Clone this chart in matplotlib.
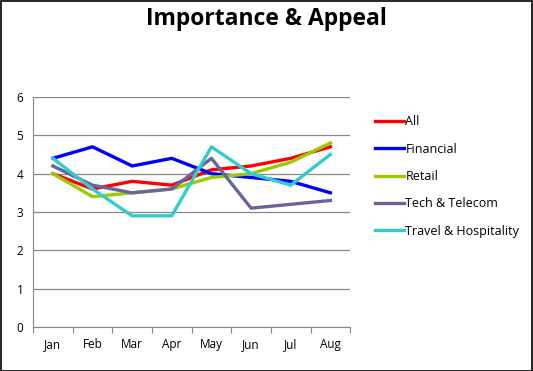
import numpy as np
import matplotlib.pyplot as plt
from matplotlib.patches import Rectangle

months = ['Jan', 'Feb', 'Mar', 'Apr', 'May', 'Jun', 'Jul', 'Aug']
all_vals = [4.0, 3.6, 3.8, 3.7, 4.1, 4.2, 4.4, 4.7]
financial = [4.4, 4.7, 4.2, 4.4, 4.0, 3.9, 3.8, 3.5]
retail = [4.0, 3.4, 3.5, 3.6, 3.9, 4.0, 4.3, 4.8]
tech = [4.2, 3.7, 3.5, 3.6, 4.4, 3.1, 3.2, 3.3]
travel = [4.4, 3.6, 2.9, 2.9, 4.7, 4.0, 3.7, 4.5]

series = [
    ('All', all_vals, '#FF0000'),
    ('Financial', financial, '#0000FF'),
    ('Retail', retail, '#99CC00'),
    ('Tech & Telecom', tech, '#666699'),
    ('Travel & Hospitality', travel, '#33CCCC'),
]

plt.rcParams['font.family'] = ['Open Sans', 'DejaVu Sans']

fig = plt.figure(figsize=(5.33, 3.71), dpi=100)
fig.patches.append(Rectangle((0.001, 0.001), 0.997, 0.997, transform=fig.transFigure,
                             fill=False, edgecolor='black', linewidth=1.2))

ax = fig.add_axes([0.062, 0.1186, 0.595, 0.62])
x = np.arange(1, len(months) + 1)
for name, vals, color in series:
    ax.plot(x, vals, color=color, linewidth=2.4, label=name)

ax.set_xlim(0.5, len(months) + 0.5)
ax.set_ylim(0, 6)
ax.set_yticks(range(7))
ax.set_xticks(np.arange(0.5, len(months) + 1, 1))
ax.set_xticklabels([])
ax.set_xticks(x, minor=True)
ax.set_xticklabels(months, minor=True, fontsize=8.5)
ax.tick_params(axis='x', which='minor', length=0, pad=8)
ax.tick_params(axis='x', which='major', length=4, color='#888888', direction='out')
ax.tick_params(axis='y', length=0, labelsize=8.5, pad=7)
ax.grid(True, axis='y', color='#888888', linewidth=0.9)
ax.set_axisbelow(True)
for s in ['top', 'right']:
    ax.spines[s].set_visible(False)
for s in ['left', 'bottom']:
    ax.spines[s].set_color('#888888')

fig.text(0.5, 0.948, 'Importance & Appeal', ha='center', va='center',
         fontsize=16.5, fontweight='bold')

fig.legend(loc='upper left', bbox_to_anchor=(0.683, 0.72), frameon=False,
           fontsize=9, handlelength=2.3, handletextpad=0.1, labelspacing=1.15)

plt.savefig('out.png', dpi=100)
